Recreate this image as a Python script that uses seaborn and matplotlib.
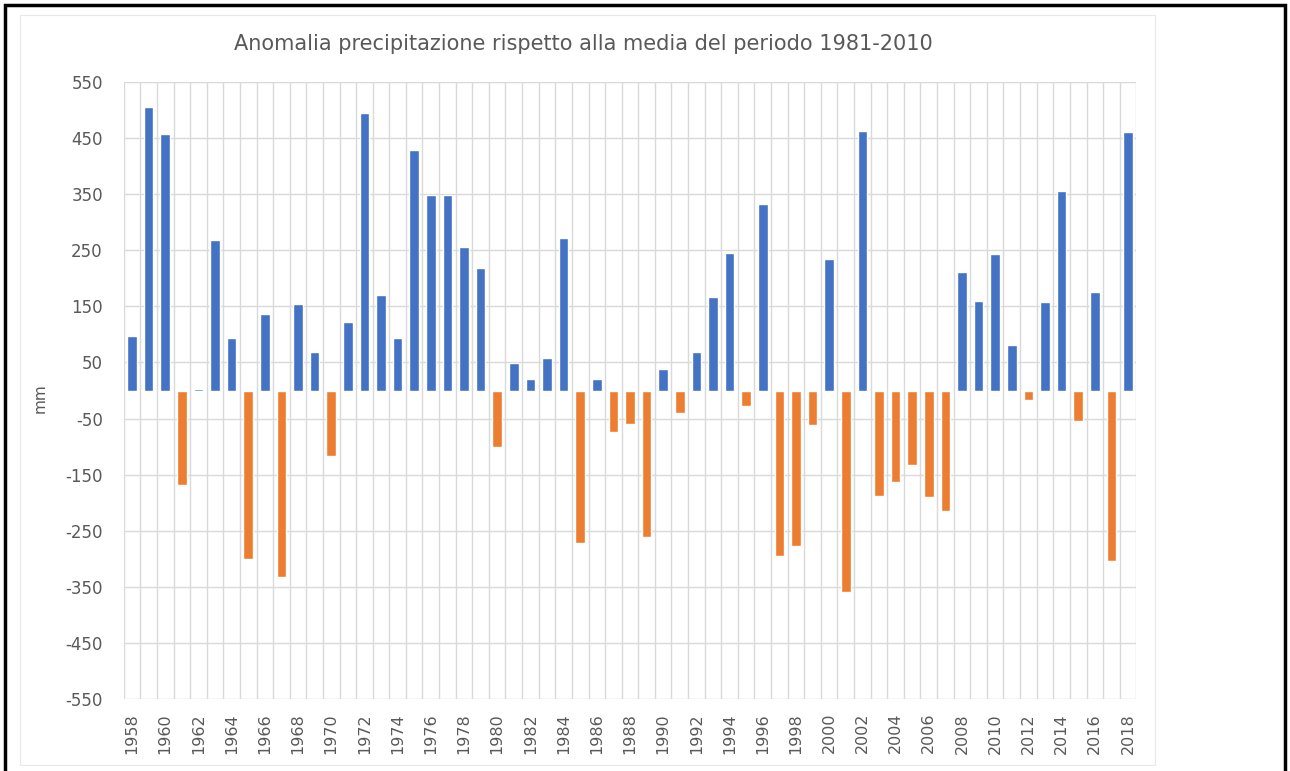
import matplotlib
matplotlib.use("Agg")
import matplotlib.pyplot as plt
import seaborn as sns
import pandas as pd
import numpy as np
from matplotlib.patches import Rectangle

years = list(range(1958, 2019))
anomaly_mm = [
    98, 505, 457, -168, 3, 268, 94, -300, 136, -332, 155, 68,
    -116, 122, 494, 171, 94, 429, 348, 348, 256, 218,
    -100, 49, 21, 58, 271, -272, 21, -74, -60, -262,
    39, -41, 68, 166, 245, -28, 332, -295, -278, -61,
    234, -360, 462, -188, -164, -132, -190, -214, 211, 160,
    243, 82, -17, 157, 355, -55, 176, -304, 461,
]
y_ticks = list(range(-550, 551, 100))
title = "Anomalia precipitazione rispetto alla media del periodo 1981-2010"
y_label = "mm"

BLUE = "#4472C4"
ORANGE = "#ED7D31"
TXT = "#595959"
GRID = "#d9d9d9"

df = pd.DataFrame({"year": [str(y) for y in years], "value": anomaly_mm})
df["sign"] = np.where(df["value"] >= 0, "pos", "neg")

sns.set_style("white")
plt.rcParams["font.family"] = ["DejaVu Sans"]

fig = plt.figure(figsize=(12.9, 7.71), dpi=100)
ax = fig.add_axes([123.7 / 1290, 1 - 699 / 771, (1136.3 - 123.7) / 1290, (699 - 82) / 771])

sns.barplot(data=df, x="year", y="value", hue="sign", dodge=False,
            palette={"pos": BLUE, "neg": ORANGE}, width=0.58,
            legend=False, ax=ax, saturation=1)

ax.set_ylim(-550, 550)
ax.set_xlim(-0.5, len(years) - 0.5)
ax.set_yticks(y_ticks)
ax.set_yticklabels([str(v) for v in y_ticks])
ax.set_xticks(range(0, len(years), 2))
ax.set_xticklabels([str(y) for y in years[::2]], rotation=90)
ax.set_xticks(np.arange(-0.5, len(years), 1.0), minor=True)
ax.set_xlabel("")
ax.set_ylabel("")

ax.grid(False)
ax.yaxis.grid(True, which="major", color=GRID, linewidth=1.0)
ax.xaxis.grid(True, which="minor", color=GRID, linewidth=1.0)
ax.set_axisbelow(True)
for s in ax.spines.values():
    s.set_visible(False)
ax.tick_params(axis="both", which="both", length=0)
ax.tick_params(axis="y", labelsize=12, labelcolor=TXT, pad=15)
ax.tick_params(axis="x", labelsize=11.5, labelcolor=TXT, pad=10)

fig.text(583 / 1290, 1 - 44 / 771, title, ha="center", va="center",
         fontsize=15, color=TXT)
fig.text(40 / 1290, 1 - 398 / 771, y_label, ha="center", va="center",
         rotation=90, fontsize=11, color=TXT)

# chart area outline
fig.add_artist(Rectangle((20 / 1290, 1 - 765 / 771), 1135 / 1290, 750 / 771,
                         transform=fig.transFigure, fill=False,
                         edgecolor="#e8e8e8", linewidth=0.8))
# outer black frame
fig.add_artist(Rectangle((5 / 1290, -0.02), 1280 / 1290, (766 / 771) + 0.02,
                         transform=fig.transFigure, fill=False,
                         edgecolor="black", linewidth=2.5, clip_on=False))

fig.savefig("out.png", dpi=100, facecolor="white")
